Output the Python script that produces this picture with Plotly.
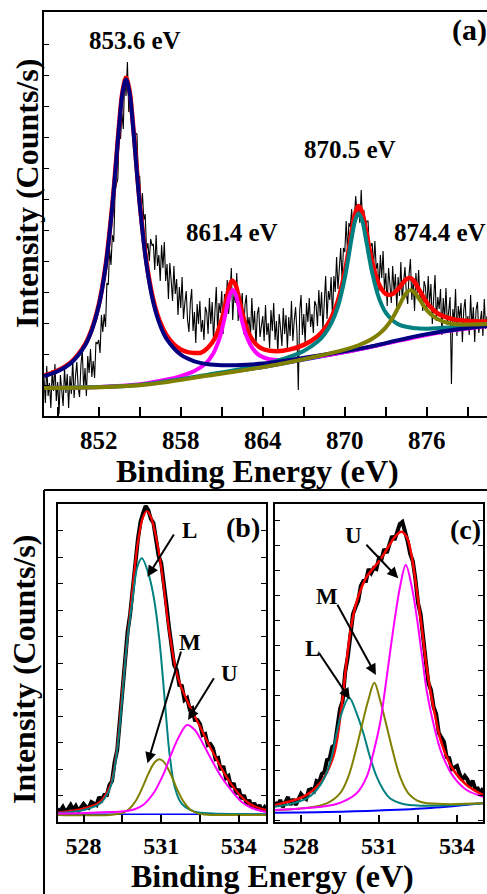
import plotly.graph_objects as go

W, H = 487, 894
FONT = "Liberation Serif"

def fx(p):
    return p / W

def fy(p):
    return 1 - p / H

# ---------------- Panel (a): Ni 2p ----------------
a_start, a_step = 848.0, 0.1
a_counts = [
    38, 13, 50, 20, 33, 8, 46, 25, 52, 15,
    34, 2, 41, 28, 10, 48, 23, 42, 8, 40,
    22, 57, 18, 39, 54, 29, 19, 51, 66, 27,
    48, 20, 60, 43, 67, 39, 55, 38, 74, 72,
    76, 63, 101, 84, 102, 89, 133, 131, 167, 151,
    181, 174, 224, 232, 237, 286, 277, 303, 287, 340,
    320, 354, 304, 313, 320, 293, 271, 283, 282, 237,
    240, 204, 223, 196, 202, 166, 173, 155, 177, 171,
    172, 146, 181, 150, 161, 135, 171, 148, 174, 135,
    152, 117, 153, 136, 115, 150, 122, 137, 101, 129,
    108, 139, 97, 113, 125, 96, 84, 113, 127, 85,
    104, 73, 112, 92, 115, 84, 96, 76, 109, 104,
    82, 118, 92, 114, 76, 104, 129, 85, 113, 103,
    125, 82, 122, 103, 136, 102, 118, 148, 96, 123,
    113, 143, 95, 123, 109, 123, 82, 111, 121, 88,
    99, 79, 118, 86, 105, 70, 102, 109, 79, 90,
    100, 75, 111, 81, 93, 68, 106, 85, 113, 76,
    95, 63, 102, 88, 70, 108, 82, 101, 67, 99,
    80, 115, 75, 95, 109, 84, 26, 105, 121, 81,
    102, 73, 113, 94, 118, 89, 102, 83, 115, 111,
    90, 126, 100, 124, 86, 114, 140, 97, 125, 116,
    139, 98, 140, 124, 159, 127, 148, 168, 136, 168,
    164, 195, 164, 193, 189, 207, 179, 207, 220, 199,
    212, 193, 226, 193, 206, 174, 195, 195, 166, 170,
    173, 149, 175, 147, 153, 125, 161, 138, 165, 126,
    143, 110, 148, 132, 113, 150, 124, 142, 108, 139,
    120, 154, 115, 134, 149, 123, 112, 142, 157, 116,
    136, 105, 143, 123, 146, 115, 126, 105, 135, 129,
    106, 140, 112, 132, 92, 118, 141, 95, 119, 107,
    127, 81, 118, 97, 128, 91, 105, 119, 32, 107,
    95, 127, 80, 110, 97, 113, 74, 106, 117, 87,
    100, 81, 121, 89, 109, 74, 106, 114, 83, 95,
    105, 80, 117, 87, 100,
]
a_x = [round(a_start + a_step * i, 2) for i in range(len(a_counts))]

a_bg_x = [848, 850, 852, 854, 856, 858, 860, 862, 864, 866, 868, 870, 872, 874, 876, 878, 880.4]
a_bg = [28, 28, 28.5, 29.5, 32, 36, 40, 44, 48, 53, 58, 63, 68.5, 75, 81, 85.5, 89.5]

a_red_x = [848, 849, 850, 851, 851.5, 852, 852.5, 853, 853.25, 853.5, 853.75, 854, 854.25, 854.5,
           854.75, 855, 855.5, 856, 856.5, 857, 857.5, 858, 858.5, 859, 859.5, 860, 860.5, 861,
           861.25, 861.5, 861.75, 862, 862.25, 862.5, 863, 863.5, 864, 865, 866, 867, 868, 868.5,
           869, 869.5, 870, 870.25, 870.5, 870.75, 871, 871.25, 871.5, 872, 872.5, 873, 873.5,
           874, 874.5, 874.75, 875, 875.5, 876, 876.5, 877, 878, 879, 880.4]
a_red = [40.5, 45.5, 54.2, 71.6, 87.0, 110.9, 149.9, 211.6, 251.4, 292.3, 325.2, 338.2, 325.8, 293.4,
         253.0, 213.8, 153.4, 115.9, 93.6, 79.9, 71.6, 66.5, 63.9, 63.1, 63.4, 68.5, 77.7, 96.6,
         111.1, 126.4, 135.3, 131.5, 117.9, 102.9, 82.1, 71.8, 67.0, 64.8, 66.6, 71.1, 79.6, 86.8,
         97.7, 115.3, 144.0, 163.3, 184.3, 202.1, 209.9, 204.5, 189.2, 154.2, 131.7, 122.1, 122.0,
         128.7, 136.8, 137.9, 135.8, 124.8, 113.5, 105.8, 101.1, 96.5, 95.1, 94.6]

a_navy_x = [848, 849, 850, 851, 851.5, 852, 852.5, 853, 853.25, 853.5, 853.75, 854, 854.25, 854.5,
            854.75, 855, 855.5, 856, 856.5, 857, 858, 859, 860, 861, 862, 864, 866, 868, 870, 872,
            874, 876, 878, 880.4]
a_navy = [39.8, 44.7, 53.3, 70.5, 85.9, 109.7, 148.6, 210.2, 249.9, 290.8, 323.6, 336.5, 324.0, 291.5,
          251.0, 211.7, 151.0, 113.2, 90.5, 76.3, 61.3, 54.7, 51.8, 50.8, 50.8, 52.4, 56.0, 60.2, 64.7,
          69.9, 76.1, 81.9, 86.3, 90.1]

a_mag_x = [848, 852, 855, 857, 858, 859, 859.8, 860.3, 860.8, 861.1, 861.4, 861.6, 861.8, 862.0, 862.2,
           862.5, 862.8, 863.3, 863.8, 864.5, 865.5, 867, 870, 874, 877, 880.4]
a_mag = [28.3, 29.1, 31.8, 36.5, 39.9, 45.0, 52.2, 60.7, 76.2, 91.4, 110.3, 121.4, 126.1, 122.2, 111.9,
         94.2, 80.2, 66.7, 60.2, 56.7, 55.9, 57.6, 63.9, 75.4, 83.8, 89.7]

a_teal_x = [848, 855, 860, 863, 865, 866, 867, 868, 868.5, 869, 869.5, 870, 870.25, 870.5, 870.75, 871,
            871.25, 871.5, 871.75, 872, 872.5, 873, 873.5, 874, 875, 876, 877, 878, 879, 880.4]
a_teal = [28.3, 31.1, 41.4, 48.5, 55.0, 59.3, 65.1, 74.2, 81.5, 92.3, 109.7, 138.0, 157.1, 177.8, 195.2,
          202.5, 196.6, 180.5, 161.3, 143.5, 117.9, 103.3, 95.5, 91.2, 88.1, 87.3, 88.0, 88.8, 90.0, 91.4]

a_olive_x = [848, 855, 860, 865, 868, 870, 871, 871.5, 872, 872.5, 873, 873.5, 874, 874.25, 874.5,
             874.75, 875, 875.25, 875.5, 876, 876.5, 877, 877.5, 878, 879, 880.4]
a_olive = [28.1, 30.7, 40.4, 51.3, 59.7, 66.4, 70.7, 73.6, 77.3, 82.0, 88.6, 98.2, 111.0, 117.7, 123.0,
           125.6, 124.8, 120.9, 115.8, 105.9, 99.4, 95.5, 93.3, 92.1, 91.6, 91.9]

a_peak_labels = ["853.6 eV", "861.4 eV", "870.5 eV", "874.4 eV"]

# ---------------- Panel (b): O 1s ----------------
b_start, b_step = 527.0, 0.1
b_counts = [
    13, 11, 15, 10, 13, 17, 12, 16, 11, 15,
    18, 15, 14, 20, 19, 17, 25, 22, 27, 27,
    37, 41, 60, 72, 101, 131, 157, 190, 208, 237,
    258, 283, 300, 309, 316, 312, 303, 299, 285, 266,
    259, 234, 218, 195, 179, 157, 152, 137, 136, 122,
    124, 113, 114, 102, 102, 98, 87, 88, 77, 78,
    74, 63, 64, 52, 56, 44, 46, 35, 39, 28,
    33, 23, 27, 18, 22, 15, 19, 13, 17, 11,
    15, 12,
]
b_x = [round(b_start + b_step * i, 2) for i in range(len(b_counts))]

b_red_x = [527.0, 528.0, 528.65, 529.04, 529.28, 529.56, 529.89, 530.1, 530.3, 530.45, 530.6, 530.8,
           531.0, 531.32, 531.64, 532.04, 532.43, 532.95, 533.6, 534.1, 534.5, 535.05]
b_red = [9.5, 13.5, 20.5, 37, 71, 149, 232, 280, 305, 311, 305, 285, 255, 189, 145, 119, 99, 72, 42,
         25.3, 17, 12]

b_teal_x = [527.0, 528.0, 528.65, 529.04, 529.28, 529.43, 529.56, 529.69, 529.89, 530.08, 530.25, 530.54,
            530.73, 530.93, 531.06, 531.19, 531.32, 531.52, 531.78, 532.3, 533.0, 534.0, 535.05]
b_teal = [9, 12, 18.7, 35, 68.7, 105, 145, 182, 222, 255.3, 263.7, 245.3, 222, 182, 145.3, 105.3, 68.7,
          35.3, 18.7, 10.3, 8.5, 8, 7.8]

b_olive_x = [527.0, 529.0, 529.5, 529.75, 530.0, 530.25, 530.5, 530.75, 530.93, 531.1, 531.35, 531.6,
             531.85, 532.1, 532.4, 532.9, 534.0, 535.05]
b_olive = [7, 7.1, 9, 12.7, 20.5, 33.1, 48.1, 59.8, 62.7, 60.1, 48.7, 33.7, 20.9, 12.9, 8.6, 7.1, 7, 7]

b_mag_x = [527.0, 528.0, 529.0, 529.5, 530.0, 530.3, 530.7, 531.1, 531.4, 531.7, 532.0, 532.3, 532.6,
           532.95, 533.3, 533.6, 534.1, 534.5, 535.05]
b_mag = [8.5, 9, 10, 10.5, 13, 17, 28.7, 48.7, 68.7, 86, 97, 92, 79, 62, 46, 35.3, 20.3, 14, 10]

b_bg_x = [527.0, 535.05]
b_bg = [7.7, 7.7]

# ---------------- Panel (c): O 1s ----------------
c_start, c_step = 527.0, 0.1
c_counts = [
    20, 16, 22, 15, 20, 25, 17, 23, 17, 23,
    28, 25, 23, 32, 33, 31, 41, 40, 48, 50,
    62, 63, 75, 77, 93, 113, 121, 150, 165, 189,
    208, 215, 221, 236, 241, 241, 253, 249, 254, 253,
    264, 263, 273, 269, 278, 286, 282, 290, 298, 300,
    291, 281, 268, 261, 243, 219, 208, 180, 161, 139,
    132, 115, 108, 89, 84, 80, 65, 64, 53, 55,
    56, 48, 42, 46, 42.5, 35.5, 41.5, 33, 33.5, 28,
    34,
]
c_x = [round(c_start + c_step * i, 2) for i in range(len(c_counts))]

c_red_x = [527.0, 528.09, 528.73, 529.24, 529.56, 529.76, 529.95, 530.2, 530.53, 530.78, 531.04, 531.36,
           531.62, 531.85, 532.06, 532.26, 532.45, 532.64, 532.83, 533.09, 533.41, 533.86, 534.37, 535.0]
c_red = [17, 25.3, 38.7, 65.3, 115.3, 162, 198.7, 225.3, 245.3, 253.7, 262, 275.3, 285.3, 290.3, 285.3,
         265.3, 232, 195.3, 155.3, 115.3, 78.7, 52, 37, 27]

c_teal_x = [527.0, 527.58, 528.22, 528.6, 528.92, 529.18, 529.37, 529.56, 529.85, 530.14, 530.4, 530.65,
            530.91, 531.17, 531.42, 531.93, 532.58, 533.5, 535.0]
c_teal = [15.3, 18, 23.7, 32, 45.3, 65.3, 88.7, 108.7, 124.3, 108.7, 88.7, 65.3, 45.3, 32, 23.7, 18,
          16.3, 16.5, 18.7]

c_olive_x = [527.0, 528.09, 528.99, 529.5, 529.82, 530.08, 530.33, 530.59, 530.82, 531.04, 531.3, 531.55,
             531.81, 532.13, 532.58, 533.47, 535.0]
c_olive = [12, 13.7, 18.7, 28.7, 45.3, 68.7, 95.3, 122, 139.3, 122, 95.3, 68.7, 45.3, 28.7, 20.3, 18,
           18.7]

c_mag_x = [527.0, 528.09, 529.37, 530.14, 530.53, 530.78, 531.04, 531.23, 531.42, 531.62, 531.81, 532.03,
           532.26, 532.45, 532.64, 532.83, 533.09, 533.41, 533.86, 534.37, 535.0]
c_mag = [12, 13.7, 18, 28.7, 45.3, 68.7, 98.7, 132, 168.7, 205.3, 235.3, 257, 235.3, 205.3, 168.7, 132,
         98.7, 68.7, 45.3, 32, 25.3]

c_bg_x = [527.0, 529.0, 531.0, 533.0, 535.0]
c_bg = [9.3, 10.0, 11.5, 14.0, 18.7]

component_labels = ["L", "M", "U"]

# ---------------- Figure ----------------
RED, NAVY, MAG, TEAL, OLIVE, BLUE = "#FF0000", "#000080", "#FF00FF", "#008080", "#808000", "#0000FF"

fig = go.Figure()


def add(x, y, color, width, xa, ya, shape="spline"):
    fig.add_trace(go.Scatter(x=x, y=y, mode="lines",
                             line=dict(color=color, width=width, shape=shape),
                             xaxis=xa, yaxis=ya, showlegend=False, hoverinfo="skip"))


# panel (a)
add(a_x, a_counts, "black", 1.1, "x", "y", "linear")
add(a_bg_x, a_bg, BLUE, 2, "x", "y")
add(a_red_x, a_red, RED, 4.5, "x", "y")
add(a_mag_x, a_mag, MAG, 4, "x", "y")
add(a_teal_x, a_teal, TEAL, 4, "x", "y")
add(a_navy_x, a_navy, NAVY, 4, "x", "y")
add(a_olive_x, a_olive, OLIVE, 4, "x", "y")

# panel (b)
add(b_x, b_counts, "black", 4, "x2", "y2", "linear")
add(b_bg_x, b_bg, BLUE, 1.5, "x2", "y2", "linear")
add(b_red_x, b_red, RED, 2.2, "x2", "y2")
add(b_teal_x, b_teal, TEAL, 2, "x2", "y2")
add(b_olive_x, b_olive, OLIVE, 2, "x2", "y2")
add(b_mag_x, b_mag, MAG, 2, "x2", "y2")

# panel (c)
add(c_x, c_counts, "black", 4, "x3", "y3", "linear")
add(c_bg_x, c_bg, BLUE, 2, "x3", "y3")
add(c_red_x, c_red, RED, 2.5, "x3", "y3")
add(c_teal_x, c_teal, TEAL, 2, "x3", "y3")
add(c_olive_x, c_olive, OLIVE, 2, "x3", "y3")
add(c_mag_x, c_mag, MAG, 2, "x3", "y3")

tickfont = dict(family=FONT, size=25, color="black", weight="bold")
small_tickfont = dict(family=FONT, size=24, color="black", weight="bold")

common_x = dict(showline=True, linewidth=2, linecolor="black", mirror=True, ticks="inside",
                tickwidth=1.5, tickcolor="black", showgrid=False, zeroline=False, tickmode="linear")
common_y = dict(showline=True, linewidth=2, linecolor="black", ticks="inside", ticklen=5,
                tickwidth=1.2, tickcolor="black", showgrid=False, zeroline=False,
                showticklabels=False, tickmode="linear")

fig.update_layout(
    width=W, height=H, margin=dict(l=0, r=0, t=0, b=0),
    paper_bgcolor="white", plot_bgcolor="white",
    xaxis=dict(common_x, domain=[fx(44), 1.0], anchor="y", range=[848, 880.4], tick0=852, dtick=6,
               ticklen=9, tickfont=tickfont, ticklabelstandoff=1,
               minor=dict(tick0=849, dtick=3, ticks="inside", ticklen=9, tickwidth=1.5, tickcolor="black")),
    yaxis=dict(common_y, domain=[fy(416), fy(12)], anchor="x", range=[0, 404], tick0=0, dtick=31),
    xaxis2=dict(common_x, domain=[fx(57.7), fx(266)], anchor="y2", range=[527, 535.05], tick0=528,
                dtick=3, ticklen=7, tickfont=small_tickfont, ticklabelstandoff=1,
                minor=dict(tick0=526.5, dtick=1.5, ticks="inside", ticklen=7, tickwidth=1.5, tickcolor="black")),
    yaxis2=dict(common_y, domain=[fy(822), fy(504)], anchor="x2", range=[0, 318], tick0=0, dtick=26.5,
                mirror="ticks"),
    xaxis3=dict(common_x, domain=[fx(275), fx(483)], anchor="y3", range=[527, 535.0], tick0=528,
                dtick=3, ticklen=7, tickfont=small_tickfont, ticklabelstandoff=1,
                minor=dict(tick0=526.5, dtick=1.5, ticks="inside", ticklen=7, tickwidth=1.5, tickcolor="black")),
    yaxis3=dict(common_y, domain=[fy(822), fy(504)], anchor="x3", range=[0, 318], tick0=2, dtick=25,
                mirror="ticks"),
)

# outer frame around bottom panels
fig.add_shape(type="line", xref="paper", yref="paper", x0=fx(44), x1=1.0, y0=fy(490), y1=fy(490),
              line=dict(color="black", width=2))
fig.add_shape(type="line", xref="paper", yref="paper", x0=fx(44), x1=fx(44), y0=fy(490), y1=0,
              line=dict(color="black", width=2))


def label(text, x, y, size, angle=0):
    fig.add_annotation(text="<b>%s</b>" % text, x=fx(x), y=fy(y), xref="paper", yref="paper",
                       showarrow=False, textangle=angle, xanchor="center", yanchor="middle",
                       font=dict(family=FONT, size=size, color="black"))


# titles
label("Intensity (Counts/s)", 27, 194, 32, -90)
label("Binding Energy (eV)", 257, 471, 32)
label("Intensity (Counts/s)", 24, 670, 32, -90)
label("Binding Energy (eV)", 272, 876, 32)

# peak labels (a)
label(a_peak_labels[0], 135, 40, 25)
label(a_peak_labels[1], 232, 233, 25)
label(a_peak_labels[2], 350, 150, 25)
label(a_peak_labels[3], 440, 233, 25)

# panel letters
label("(a)", 469, 30, 30)
label("(b)", 243, 527, 28)
label("(c)", 465, 529, 28)

# component letters
label(component_labels[0], 189.5, 530, 23)
label(component_labels[1], 190, 642, 23)
label(component_labels[2], 229.5, 673, 23)
label(component_labels[2], 353, 535, 23)
label(component_labels[1], 327, 596, 23)
label(component_labels[0], 312, 648, 23)


def arrow(xref, yref, x, y, ax, ay):
    fig.add_annotation(text="", x=x, y=y, xref=xref, yref=yref, ax=ax, ay=ay, showarrow=True,
                       arrowhead=2, arrowsize=1.1, arrowwidth=2, arrowcolor="black")


# panel (b) arrows
arrow("x2", "y2", 530.47, 245.3, 27.3, -43.7)
arrow("x2", "y2", 530.47, 58.7, 34, -113.3)
arrow("x2", "y2", 532.04, 102, 26.7, -43.3)
# panel (c) arrows
arrow("x3", "y3", 531.74, 243.7, -33.3, -35)
arrow("x3", "y3", 530.88, 147, -39.3, -71.7)
arrow("x3", "y3", 529.88, 122.7, -31.7, -47.6)

fig.write_html("out.html", config={"displayModeBar": False},
               post_script="document.body.style.margin='0';document.body.style.overflow='hidden';")
